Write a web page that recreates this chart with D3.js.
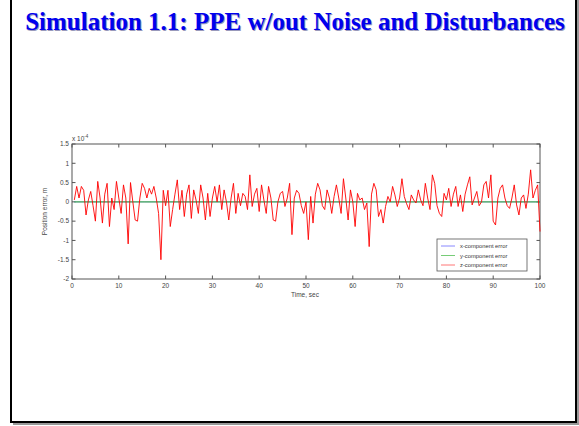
<!DOCTYPE html>
<html><head><meta charset="utf-8">
<script src="https://cdn.jsdelivr.net/npm/d3@7"></script>
<style>
html,body{margin:0;padding:0;background:#fff;}
svg{display:block;}
</style></head>
<body>
<svg id="c" width="579" height="426"></svg>
<script>
const title = "Simulation 1.1: PPE w/out Noise and Disturbances";
const xTicks = [0,10,20,30,40,50,60,70,80,90,100];
const yTicks = [-2,-1.5,-1,-0.5,0,0.5,1,1.5];
const yTickLabels = ["-2","-1.5","-1","-0.5","0","0.5","1","1.5"];
const seriesNames = ["x-component error","y-component error","z-component error"];
const seriesColors = ["#0000ff","#00a000","#ff0000"];
// time step 0.5 s, values in units of 1e-4 m
const tStart = 0.5, tStep = 0.5;
const zError = [
0.05,0.4,0.1,0.4,0.3,-0.34,0.05,0.27,-0.1,-0.5,
0.53,0.1,-0.55,0.2,0.48,-0.64,0.1,-0.2,0.53,0.1,
-0.3,0.44,0.1,-1.09,0.5,0.0,-0.47,-0.5,0.1,0.48,
0.35,0.1,0.35,0.2,0.4,0.1,-0.3,-1.5,0.3,-0.1,
0.3,-0.64,-0.2,0.2,0.57,-0.2,0.3,-0.38,0.2,0.44,
-0.43,0.31,0.05,-0.3,0.44,0.1,-0.47,0.22,-0.38,0.1,
0.4,0.0,0.44,-0.2,0.31,0.0,-0.47,0.1,0.48,-0.3,
0.22,-0.1,0.22,0.14,-0.2,0.7,-0.12,0.2,0.35,-0.25,
0.44,0.05,-0.3,0.4,0.1,-0.47,-0.5,0.0,0.22,0.27,
-0.12,0.1,0.48,-0.85,0.1,0.3,0.22,-0.1,-0.3,0.0,
-0.98,0.14,-0.55,0.2,0.48,0.31,-0.1,-0.2,0.31,0.1,
-0.3,0.14,0.44,0.1,-0.3,0.6,0.1,-0.47,0.31,0.0,
-0.64,0.22,0.05,0.1,-0.2,-0.03,-1.16,0.2,0.48,0.31,
-0.38,-0.2,-0.55,-0.12,0.14,0.0,0.4,0.18,-0.12,0.1,
0.6,0.14,-0.05,-0.2,0.18,0.05,-0.03,0.31,0.05,-0.1,
0.48,0.1,-0.2,0.7,0.48,-0.1,-0.3,-0.38,0.22,0.05,
0.35,-0.12,0.2,0.4,-0.12,0.18,-0.25,0.2,0.44,0.65,
-0.08,0.1,0.27,-0.1,0.0,0.44,0.53,0.1,0.7,-0.5,
-0.6,0.1,0.35,0.44,0.1,-0.1,-0.17,0.1,0.44,-0.08,
-0.34,0.1,0.18,-0.17,0.2,0.83,0.1,0.3,0.44,-0.77
];
const xError = zError.map(() => 0);
const yError = zError.map(() => 0);
const times = zError.map((_, i) => tStart + i * tStep);

const svg = d3.select("#c");
// slide frame with shadow
svg.append("rect").attr("x",13).attr("y",-10).attr("width",566).attr("height",435).attr("fill","#999");
svg.append("rect").attr("x",11).attr("y",-10).attr("width",565).attr("height",432)
  .attr("fill","#fff").attr("stroke","#000").attr("stroke-width",2);

const tf = "Liberation Serif, Times New Roman, serif";
svg.append("text").attr("x",295).attr("y",30).attr("text-anchor","middle")
  .attr("font-family",tf).attr("font-weight","bold")
  .attr("font-size",25).attr("fill","#9999bb").attr("transform","translate(1,1)").text(title);
svg.append("text").attr("x",295).attr("y",30).attr("text-anchor","middle")
  .attr("font-family",tf).attr("font-weight","bold")
  .attr("font-size",25).attr("fill","#0000ee").text(title);

const L = 72, R = 540, T = 144, B = 279;
const x = d3.scaleLinear().domain([0,100]).range([L,R]);
const y = d3.scaleLinear().domain([-2,1.5]).range([B,T]);
const axCol = "#555";
const g = svg.append("g").attr("font-family","Liberation Sans, Arial, sans-serif").attr("font-size",6.5).attr("fill","#444");

// box
g.append("rect").attr("x",L).attr("y",T).attr("width",R-L).attr("height",B-T)
  .attr("fill","#fff").attr("stroke",axCol).attr("stroke-width",1);

// ticks (inside, all four sides)
const tl = 3.5;
xTicks.forEach(v => {
  g.append("line").attr("x1",x(v)).attr("x2",x(v)).attr("y1",B).attr("y2",B-tl).attr("stroke",axCol);
  g.append("line").attr("x1",x(v)).attr("x2",x(v)).attr("y1",T).attr("y2",T+tl).attr("stroke",axCol);
  g.append("text").attr("x",x(v)).attr("y",B+9).attr("text-anchor","middle").text(v);
});
yTicks.forEach((v,i) => {
  g.append("line").attr("x1",L).attr("x2",L+tl).attr("y1",y(v)).attr("y2",y(v)).attr("stroke",axCol);
  g.append("line").attr("x1",R).attr("x2",R-tl).attr("y1",y(v)).attr("y2",y(v)).attr("stroke",axCol);
  g.append("text").attr("x",L-3).attr("y",y(v)+2.3).attr("text-anchor","end").text(yTickLabels[i]);
});
g.append("text").attr("x",L).attr("y",T-3).text("x 10").append("tspan").attr("dy",-3).attr("font-size",4.5).text("-4");
g.append("text").attr("x",305).attr("y",B+18).attr("text-anchor","middle").text("Time, sec");
g.append("text").attr("transform",`translate(47,${(T+B)/2}) rotate(-90)`).attr("text-anchor","middle").text("Position error, m");

const line = d3.line().x((d,i)=>x(times[i])).y(d=>y(d));
const plot = svg.append("g");
plot.append("path").datum(xError).attr("d",line).attr("fill","none").attr("stroke",seriesColors[0]).attr("stroke-width",0.6);
plot.append("path").datum(yError).attr("d",line).attr("fill","none").attr("stroke","#55bb55").attr("stroke-width",1.3);
plot.append("path").datum(zError).attr("d",line).attr("fill","none").attr("stroke",seriesColors[2]).attr("stroke-width",0.9).attr("stroke-linejoin","round");

// legend
const lg = svg.append("g").attr("font-family","Liberation Sans, Arial, sans-serif").attr("font-size",5.8).attr("fill","#333");
lg.append("rect").attr("x",437).attr("y",239).attr("width",90).attr("height",32).attr("fill","#fff").attr("stroke",axCol).attr("stroke-width",0.8);
const legCols = ["#8888ff","#77cc77","#ff7777"];
seriesNames.forEach((n,i) => {
  const yy = 246 + i*9.5;
  lg.append("line").attr("x1",441).attr("x2",455).attr("y1",yy).attr("y2",yy).attr("stroke",legCols[i]).attr("stroke-width",1);
  lg.append("text").attr("x",460).attr("y",yy+2).text(n);
});
</script>
</body></html>
